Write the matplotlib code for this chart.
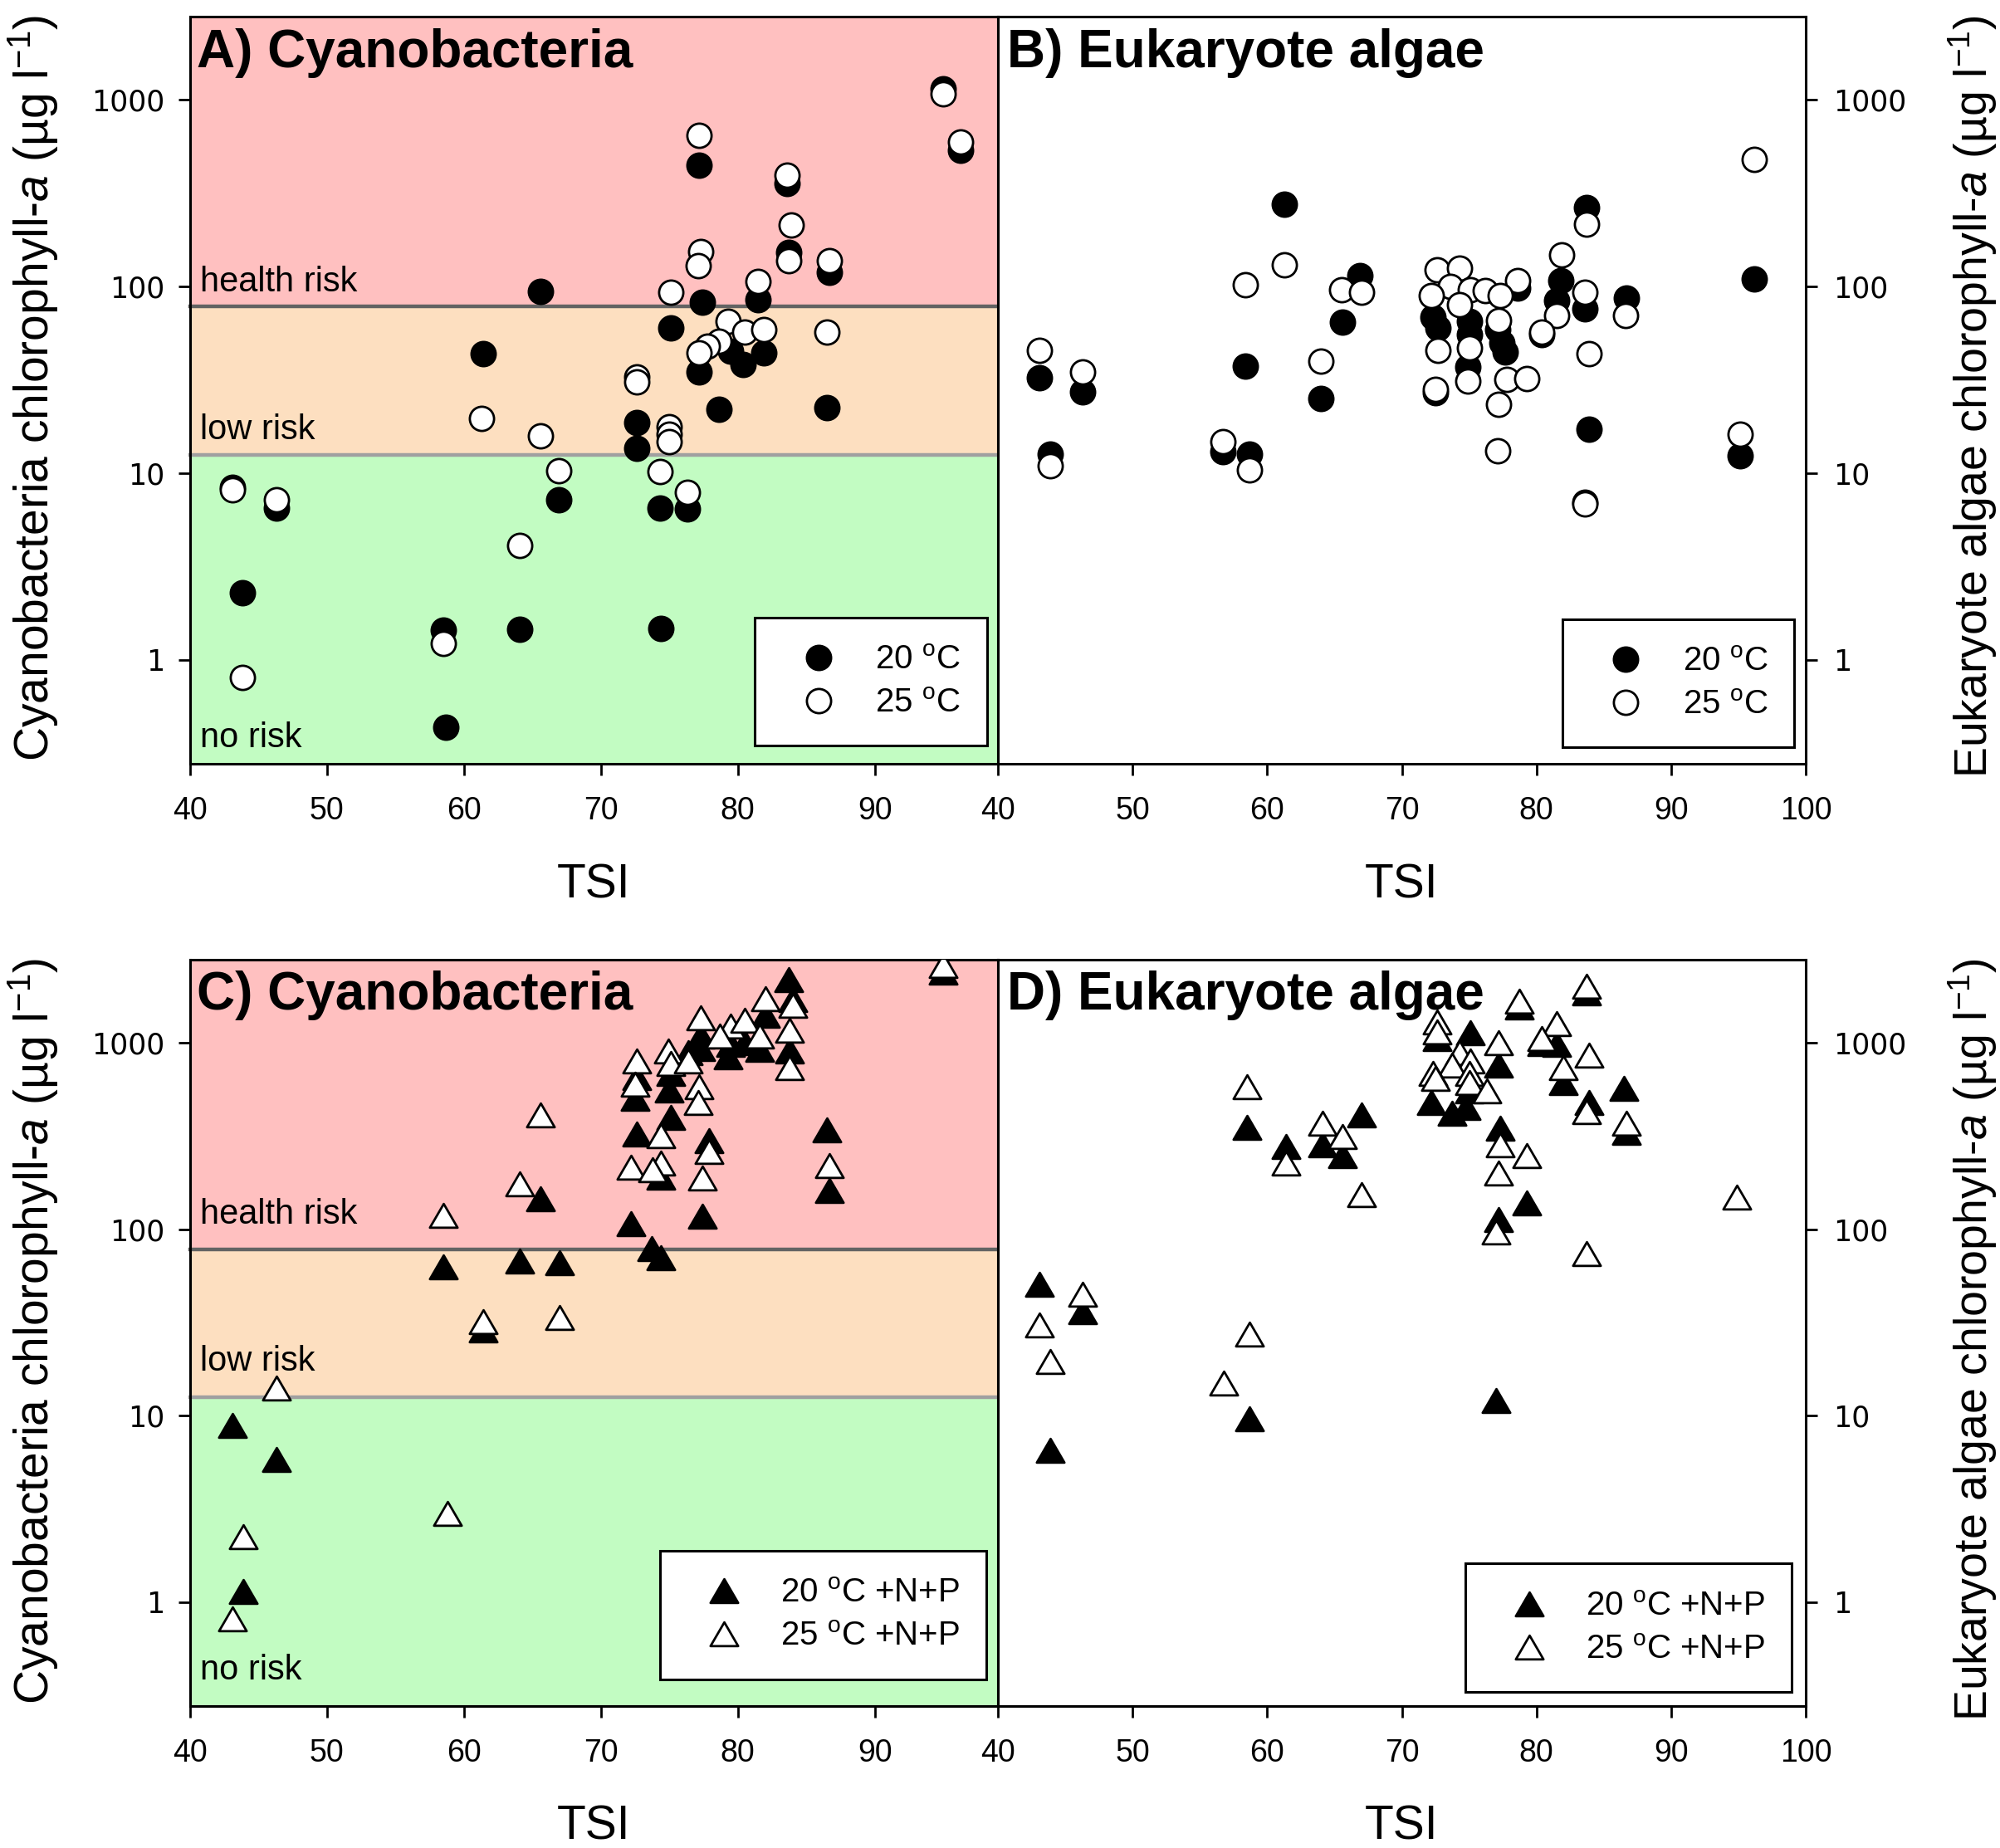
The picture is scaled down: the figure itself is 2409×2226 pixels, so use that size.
import numpy as np
import matplotlib
matplotlib.use("Agg")
import matplotlib.pyplot as plt
import matplotlib.transforms as mtransforms
from matplotlib.path import Path
from matplotlib.ticker import FixedLocator, NullLocator

plt.rcParams['font.family'] = ['Liberation Sans', 'DejaVu Sans']
plt.rcParams['mathtext.fontset'] = 'custom'
plt.rcParams['mathtext.rm'] = 'Liberation Sans'
plt.rcParams['mathtext.it'] = 'Liberation Sans:italic'
plt.rcParams['mathtext.bf'] = 'Liberation Sans:bold'

# ==========================================
# data (TSI, chlorophyll-a in ug/l)
# ==========================================
# A) cyanobacteria, ambient
a_tsi_20 = [95.0, 96.3, 77.2, 83.6, 83.7, 86.7, 65.6, 77.4, 81.5, 75.1, 79.5, 80.4, 81.9, 77.2, 61.4,
            78.6, 86.5, 72.6, 72.6, 66.9, 74.3, 76.3, 43.1, 46.3, 43.8, 58.5, 64.1, 74.4, 58.7]
a_chl_20 = [1150, 535, 444, 356, 152, 119, 94, 82, 85, 60, 45, 38, 44, 35, 43.6,
            22, 22.5, 18.7, 13.6, 7.2, 6.5, 6.4, 8.4, 6.5, 2.28, 1.44, 1.46, 1.47, 0.435]
a_tsi_25 = [95.0, 96.3, 77.2, 83.6, 83.9, 83.7, 86.7, 77.3, 77.1, 75.1, 81.5, 79.3, 80.5, 81.9, 78.6,
            77.8, 77.2, 72.6, 72.6, 86.5, 61.3, 65.6, 75.0, 75.0, 75.0, 66.9, 74.3, 76.3, 43.1, 46.3,
            64.1, 58.5, 43.8]
a_chl_25 = [1080, 593, 646, 395, 213, 137, 137, 153, 129, 93, 106, 65, 57, 59, 51,
            48, 44, 32.6, 30.7, 57, 19.7, 15.8, 17.8, 16.2, 14.8, 10.3, 10.2, 7.9, 8.1, 7.2,
            4.1, 1.22, 0.80]

# B) eukaryote algae, ambient
b_tsi_20 = [61.3, 83.7, 96.2, 66.9, 65.6, 78.6, 72.3, 72.7, 75.0, 75.0, 77.1, 77.7, 77.4, 74.9, 72.5,
            81.8, 81.5, 83.6, 80.4, 86.7, 43.1, 46.3, 58.4, 64.0, 83.9, 95.1, 43.9, 56.7, 58.7, 83.6]
b_chl_20 = [277, 264, 110, 114, 64.6, 98, 68.5, 60, 65, 55, 59, 44.7, 49.6, 37, 27,
            107, 84, 76, 55, 87, 32.3, 27.2, 37.3, 25.2, 17.1, 12.4, 12.6, 13, 12.6, 7.0]
b_tsi_25 = [96.2, 83.7, 61.3, 58.4, 81.9, 65.5, 67.0, 72.6, 74.3, 73.6, 75.1, 76.2, 78.6, 72.2, 77.3,
            74.3, 77.2, 72.7, 75.0, 74.9, 77.8, 79.3, 72.5, 77.2, 83.6, 81.5, 80.4, 86.6, 83.9, 43.1,
            46.3, 64.0, 95.1, 43.9, 56.7, 58.7, 77.1, 83.6]
b_chl_25 = [479, 216, 131, 102, 147, 96, 93, 123, 125, 100, 96, 95, 107, 89, 89,
            80, 66, 45.5, 47, 31.2, 31.9, 32, 28, 23.3, 93, 70, 57, 70, 43.5, 45.5,
            34.8, 39.6, 16.1, 11, 14.7, 10.4, 13.2, 6.8]

# C) cyanobacteria, +N+P
c_tsi_20 = [95.0, 83.7, 82.0, 84.0, 83.8, 77.3, 77.3, 79.5, 79.3, 80.5, 81.6, 75.1, 76.4, 72.6, 72.5,
            75.0, 75.1, 72.6, 77.9, 86.5, 86.7, 74.4, 65.6, 72.2, 77.4, 73.7, 74.4, 58.5, 64.1, 67.0,
            61.4, 43.1, 46.3, 43.9]
c_chl_20 = [2400, 2190, 1406, 1700, 903, 1089, 934, 980, 843, 1000, 918, 687, 887, 653, 506,
            560, 398, 324, 298, 341, 161, 191, 146, 107, 117, 79, 70, 63, 67.6, 66,
            28.8, 8.9, 5.8, 1.14]
c_tsi_25 = [95.0, 82.0, 84.0, 83.8, 83.8, 77.3, 79.5, 80.5, 78.7, 81.6, 74.9, 75.1, 76.4, 72.6, 72.5,
            77.2, 77.1, 74.4, 77.9, 65.6, 86.7, 72.2, 74.4, 73.8, 77.4, 64.1, 58.5, 61.4, 67.0, 46.3,
            58.8, 43.9, 43.1]
c_chl_25 = [2600, 1727, 1585, 1166, 736, 1360, 1227, 1314, 1089, 1089, 903, 774, 801, 801, 600,
            580, 480, 319, 260, 412, 219, 215, 227, 208, 188, 175, 119, 31.9, 33.6, 14.1,
            2.98, 2.25, 0.81]

# D) eukaryote algae, +N+P
d_tsi_20 = [83.7, 78.7, 72.6, 75.1, 77.2, 81.5, 80.4, 82.0, 75.0, 74.8, 73.7, 72.2, 86.5, 83.9, 86.7,
            58.5, 67.0, 64.1, 65.6, 61.4, 77.3, 79.3, 77.2, 43.1, 46.3, 77.0, 58.7, 43.9]
d_chl_20 = [1848, 1560, 1052, 1127, 761, 984, 990, 610, 551, 449, 419, 480, 570, 480, 330,
            353, 412, 283, 247, 278, 347, 138, 113, 50.6, 36, 12.1, 9.6, 6.5]
d_tsi_25 = [83.7, 78.7, 72.6, 72.6, 77.2, 81.5, 80.4, 83.9, 82.0, 74.3, 75.1, 73.7, 72.3, 72.5, 75.0,
            75.0, 76.3, 83.7, 86.7, 58.5, 64.1, 65.6, 61.4, 77.3, 79.3, 77.2, 67.0, 77.0, 83.7, 94.9,
            46.3, 43.1, 58.7, 43.9, 56.8]
d_chl_25 = [2015, 1668, 1292, 1146, 1000, 1270, 1052, 858, 736, 887, 801, 761, 687, 641, 687,
            610, 551, 426, 372, 580, 372, 313, 227, 283, 247, 201, 154, 97, 74, 148,
            44.9, 30.8, 27.4, 19.5, 14.9]

# risk thresholds
health_risk = 78
low_risk = 12.5

y_ticks = [1, 10, 100, 1000]
y_ticklabels = ['1', '10', '100', '1000']

# ==========================================
# figure
# ==========================================
W, H = 2409, 2226
fig = plt.figure(figsize=(W / 100, H / 100), dpi=100)

def px_axes(x0, y0, x1, y1):
    return fig.add_axes([x0 / W, 1 - y1 / H, (x1 - x0) / W, (y1 - y0) / H])

axA = px_axes(229, 20, 1202, 920)
axB = px_axes(1202, 20, 2175, 920)
axC = px_axes(229, 1156, 1202, 2055)
axD = px_axes(1202, 1156, 2175, 2055)

YLIM = (0.277, 2790)
# slightly squat triangle, closed so the open ones get a full outline
TRI = Path([(0, 0.86), (-1, -0.86), (1, -0.86), (0, 0.86)], closed=True)

def style(ax, right=False, xmax=99):
    ax.set_yscale('log')
    ax.set_xlim(40, xmax)
    ax.set_ylim(*YLIM)
    ax.yaxis.set_major_locator(FixedLocator(y_ticks))
    ax.yaxis.set_minor_locator(NullLocator())
    ax.set_yticklabels(y_ticklabels)
    ax.set_xticks(np.arange(40, 101, 10) if xmax == 100 else np.arange(40, 91, 10))
    for s in ax.spines.values():
        s.set_linewidth(2.2)
    ax.tick_params(axis='x', direction='out', length=10, width=2, pad=18, labelsize=27)
    if right:
        ax.yaxis.tick_right()
        ax.tick_params(axis='y', direction='out', length=10, width=2, pad=14, labelsize=25,
                       left=False, right=True, labelleft=False, labelright=True)
    else:
        ax.tick_params(axis='y', direction='out', length=10, width=2, pad=12, labelsize=25,
                       right=False)
    for lab in ax.get_yticklabels():
        lab.set_fontfamily('DejaVu Sans')

def risk_zones(ax, txt_y):
    ax.axhspan(health_risk, YLIM[1], color='#ffc0c0', zorder=0, lw=0)
    ax.axhspan(low_risk, health_risk, color='#fddfc0', zorder=0, lw=0)
    ax.axhspan(YLIM[0], low_risk, color='#c2fcc2', zorder=0, lw=0)
    tr = mtransforms.blended_transform_factory(ax.transAxes, ax.transData)
    ax.plot([0, 1.012], [health_risk, health_risk], color='#636363', lw=3.2, transform=tr,
            clip_on=False, zorder=1)
    ax.plot([0, 1.012], [low_risk, low_risk], color='#a0a0a0', lw=3.2, transform=tr,
            clip_on=False, zorder=1)
    for name, yv in zip(['health risk', 'low risk', 'no risk'], txt_y):
        ax.text(0.012, yv, name, transform=tr, fontsize=30, va='baseline', ha='left', zorder=2)

def points(ax, x20, y20, x25, y25, marker, ms, lab20, lab25, anchor):
    h1, = ax.plot(x20, y20, ls='none', marker=marker, ms=ms, mfc='black', mec='black',
                  mew=2.0, zorder=3, label=lab20)
    h2, = ax.plot(x25, y25, ls='none', marker=marker, ms=ms, mfc='white', mec='black',
                  mew=2.0, zorder=4, label=lab25)
    leg = ax.legend(handles=[h1, h2], loc='lower right', bbox_to_anchor=anchor,
                    borderaxespad=0, frameon=True, fancybox=False, framealpha=1,
                    edgecolor='black', fontsize=29, borderpad=0.8, handlelength=2.2,
                    handletextpad=0.6, labelspacing=0.35)
    leg.get_frame().set_linewidth(2.2)
    leg.set_zorder(6)

deg20 = r'20 $^{\mathrm{o}}$C'
deg25 = r'25 $^{\mathrm{o}}$C'

# A
style(axA)
risk_zones(axA, [94, 15.2, 0.34])
points(axA, a_tsi_20, a_chl_20, a_tsi_25, a_chl_25, 'o', 21, deg20, deg25, (0.987, 0.024))
axA.text(0.008, 0.985, 'A) Cyanobacteria', transform=axA.transAxes, fontsize=46,
         fontweight='bold', va='top', ha='left', zorder=5)

# B
style(axB, right=True, xmax=100)
points(axB, b_tsi_20, b_chl_20, b_tsi_25, b_chl_25, 'o', 21, deg20, deg25, (0.986, 0.022))
axB.text(0.011, 0.985, 'B) Eukaryote algae', transform=axB.transAxes, fontsize=46,
         fontweight='bold', va='top', ha='left', zorder=5)

# C
style(axC)
risk_zones(axC, [107, 17.5, 0.385])
points(axC, c_tsi_20, c_chl_20, c_tsi_25, c_chl_25, TRI, 24, deg20 + ' +N+P', deg25 + ' +N+P',
       (0.986, 0.036))
axC.text(0.008, 0.985, 'C) Cyanobacteria', transform=axC.transAxes, fontsize=46,
         fontweight='bold', va='top', ha='left', zorder=5)

# D
style(axD, right=True, xmax=100)
points(axD, d_tsi_20, d_chl_20, d_tsi_25, d_chl_25, TRI, 24, deg20 + ' +N+P', deg25 + ' +N+P',
       (0.983, 0.019))
axD.text(0.011, 0.985, 'D) Eukaryote algae', transform=axD.transAxes, fontsize=46,
         fontweight='bold', va='top', ha='left', zorder=5)

# axis titles
cy_lab = r'Cyanobacteria chlorophyll-$a$ (µg l$^{-1}$)'
eu_lab = r'Eukaryote algae chlorophyll-$a$ (µg l$^{-1}$)'
for yc_l, yc_r in [(467, 478), (1603, 1614)]:
    fig.text(40 / W, 1 - yc_l / H, cy_lab, rotation=90, fontsize=41, ha='center', va='center')
    fig.text(2376 / W, 1 - yc_r / H, eu_lab, rotation=90, fontsize=40, ha='center', va='center')
for xc in [715, 1688]:
    fig.text(xc / W, 1 - 1066 / H, 'TSI', fontsize=41, ha='center', va='center')
    fig.text(xc / W, 1 - 2200 / H, 'TSI', fontsize=41, ha='center', va='center')

fig.savefig('out.png', dpi=100)
